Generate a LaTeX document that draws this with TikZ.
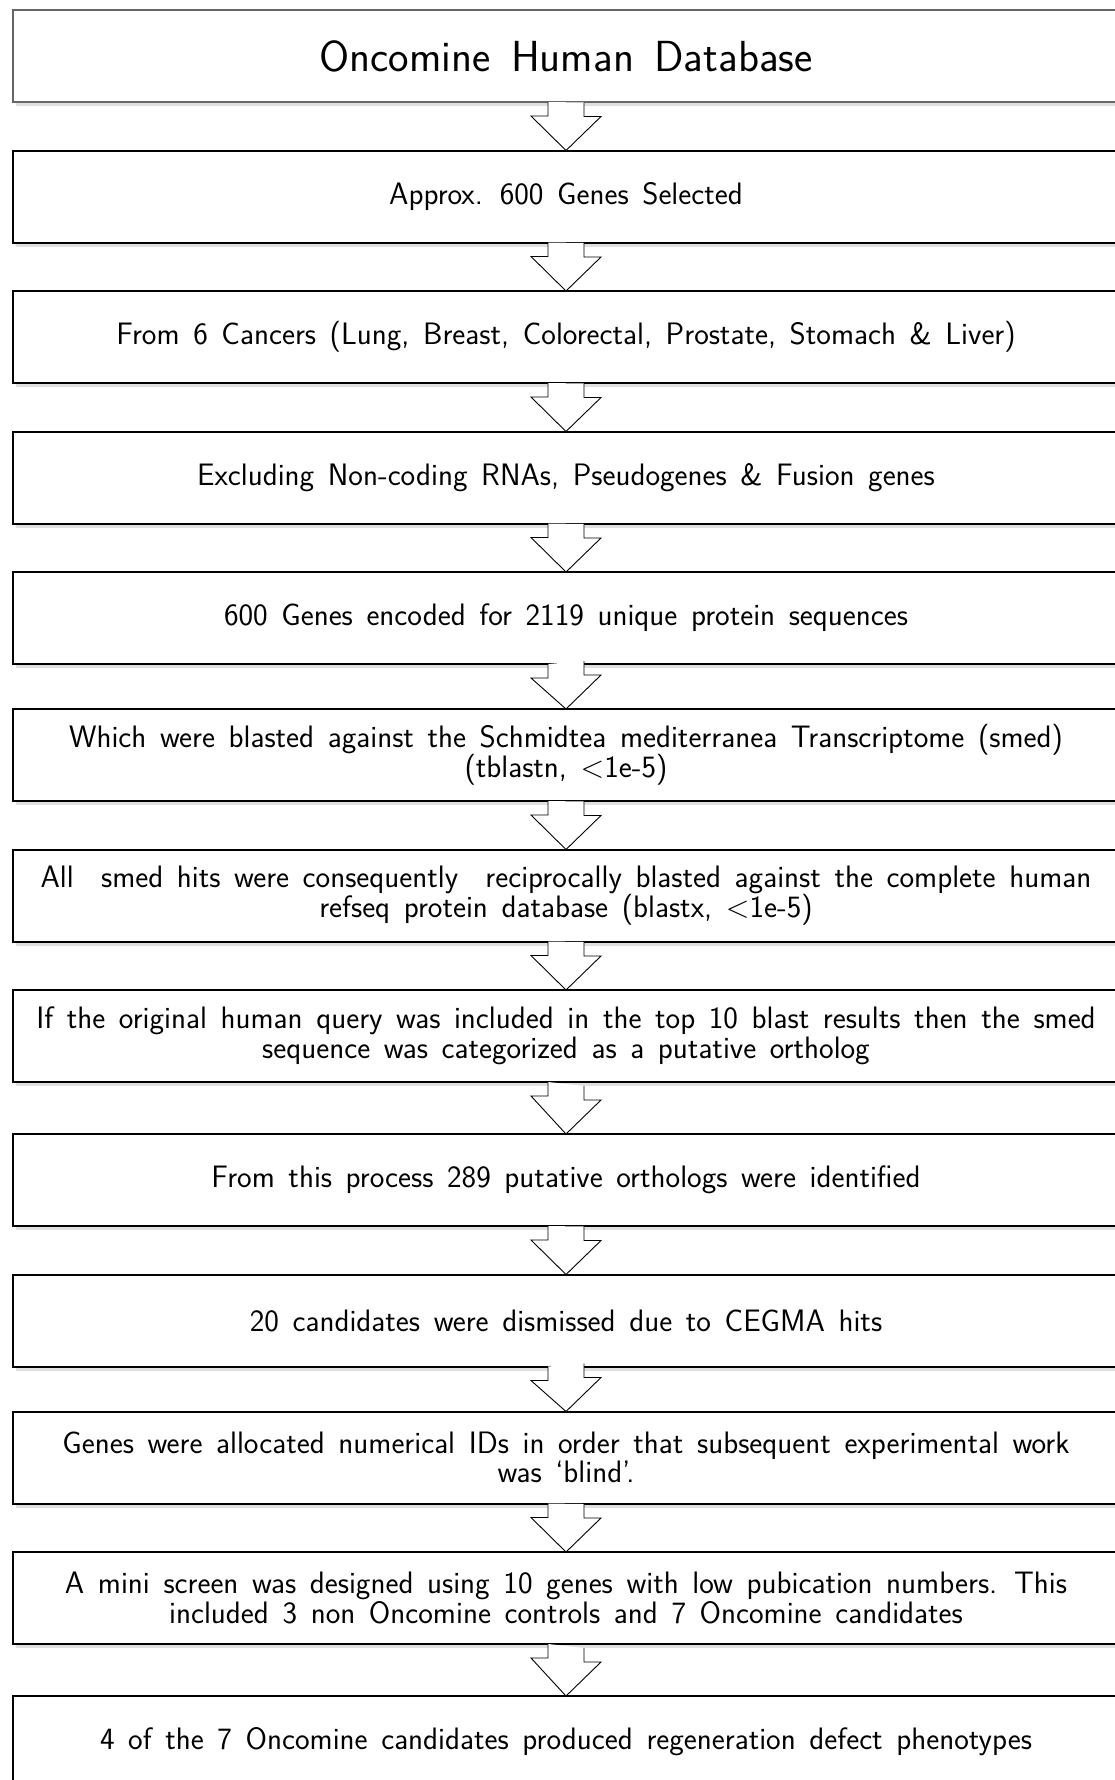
\documentclass[tikz,border=0pt]{standalone}
\usepackage{fontspec}
\usetikzlibrary{shadows}
\newcommand\stepfont{\sffamily\fontsize{31}{29.5}\selectfont\setlength{\spaceskip}{0.44em plus 0.1em}\setlength{\lineskiplimit}{-50pt}}
\newcommand\topfont{\sffamily\fontsize{43.5}{46}\selectfont\setlength{\spaceskip}{0.47em plus 0.1em}}

\begin{document}
\begin{tikzpicture}[x=1pt,y=-1pt,
  stepbox/.style={draw=black,line width=2pt,fill=white,rectangle,minimum width=1106pt,
    minimum height=92pt,inner sep=0pt,outer sep=0pt,align=center,
    drop shadow={shadow xshift=3pt,shadow yshift=-4pt,fill=black,opacity=0.12},
    font=\stepfont},
  topbox/.style={stepbox,draw=black!60,line width=1.5pt,font=\topfont},
  flowarrow/.style={draw=black,line width=0.9pt,fill=white,line join=miter}]
\useasboundingbox (0,0) rectangle (1114,1780);
\node[topbox] (db) at (566,56) {Oncomine Human Database};
\node[stepbox] (approx) at (566,196.5) {Approx. 600 Genes Selected};
\node[stepbox] (cancers) at (566,337) {From 6 Cancers (Lung, Breast, Colorectal, Prostate, Stomach \& Liver)};
\node[stepbox] (exclude) at (566,477.5) {Excluding Non-coding RNAs, Pseudogenes \& Fusion genes};
\node[stepbox] (encoded) at (566,618) {600 Genes encoded for 2119 unique protein sequences};
\node[stepbox] (tblastn) at (566,755) {Which were blasted against the Schmidtea mediterranea Transcriptome (smed)\\(tblastn, <1e-5)};
\node[stepbox] (blastx) at (566,895.5) {All\ \ smed hits were consequently\ \ reciprocally blasted against the complete human\\refseq protein database (blastx, <1e-5)};
\node[stepbox] (ortho) at (566,1036) {If the original human query was included in the top 10 blast results then the smed\\sequence was categorized as a putative ortholog};
\node[stepbox] (found) at (566,1180) {From this process 289 putative orthologs were identified};
\node[stepbox] (cegma) at (566,1320.5) {20 candidates were dismissed due to CEGMA hits};
\node[stepbox] (blind) at (566,1457.5) {Genes were allocated numerical IDs in order that subsequent experimental work\\was ‘blind’.};
\node[stepbox] (screen) at (566,1598) {A mini screen was designed using 10 genes with low pubication numbers. This\\included 3 non Oncomine controls and 7 Oncomine candidates};
\node[stepbox] (defect) at (566,1742) {4 of the 7 Oncomine candidates produced regeneration defect phenotypes};
% block arrows between the steps
\draw[flowarrow] ([xshift=-18pt]db.south) -- ++(0,14) -- ++(-17,0) -- (approx.north) -- ++(35,-34) -- ++(-17,0) -- ++(0,-14);
\draw[flowarrow] ([xshift=-18pt]approx.south) -- ++(0,14) -- ++(-17,0) -- (cancers.north) -- ++(35,-34) -- ++(-17,0) -- ++(0,-14);
\draw[flowarrow] ([xshift=-18pt]cancers.south) -- ++(0,14) -- ++(-17,0) -- (exclude.north) -- ++(35,-34) -- ++(-17,0) -- ++(0,-14);
\draw[flowarrow] ([xshift=-18pt]exclude.south) -- ++(0,14) -- ++(-17,0) -- (encoded.north) -- ++(35,-34) -- ++(-17,0) -- ++(0,-14);
\draw[flowarrow] ([xshift=-18pt]encoded.south) -- ++(0,14) -- ++(-17,0) -- (tblastn.north) -- ++(35,-34) -- ++(-17,0) -- ++(0,-14);
\draw[flowarrow] ([xshift=-18pt]tblastn.south) -- ++(0,14) -- ++(-17,0) -- (blastx.north) -- ++(35,-34) -- ++(-17,0) -- ++(0,-14);
\draw[flowarrow] ([xshift=-18pt]blastx.south) -- ++(0,14) -- ++(-17,0) -- (ortho.north) -- ++(35,-34) -- ++(-17,0) -- ++(0,-14);
\draw[flowarrow] ([xshift=-18pt]ortho.south) -- ++(0,14) -- ++(-17,0) -- (found.north) -- ++(35,-34) -- ++(-17,0) -- ++(0,-14);
\draw[flowarrow] ([xshift=-18pt]found.south) -- ++(0,14) -- ++(-17,0) -- (cegma.north) -- ++(35,-34) -- ++(-17,0) -- ++(0,-14);
\draw[flowarrow] ([xshift=-18pt]cegma.south) -- ++(0,14) -- ++(-17,0) -- (blind.north) -- ++(35,-34) -- ++(-17,0) -- ++(0,-14);
\draw[flowarrow] ([xshift=-18pt]blind.south) -- ++(0,14) -- ++(-17,0) -- (screen.north) -- ++(35,-34) -- ++(-17,0) -- ++(0,-14);
\draw[flowarrow] ([xshift=-18pt]screen.south) -- ++(0,14) -- ++(-17,0) -- (defect.north) -- ++(35,-34) -- ++(-17,0) -- ++(0,-14);
\end{tikzpicture}
\end{document}
